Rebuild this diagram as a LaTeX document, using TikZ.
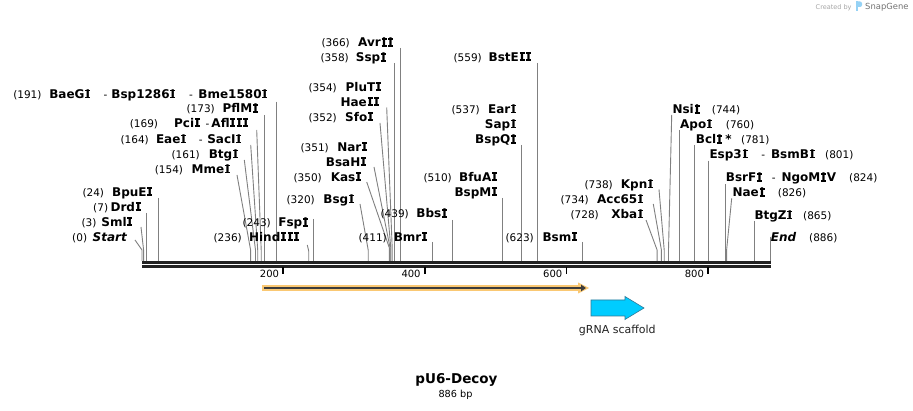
\documentclass[tikz,border=0pt]{standalone}
\usepackage{fontspec}
\setmainfont{DejaVu Sans}
\usetikzlibrary{arrows.meta}
\definecolor{bbc}{RGB}{34,34,34}
\definecolor{lkc}{RGB}{128,128,128}
\definecolor{orng}{RGB}{250,200,115}
\definecolor{dkc}{RGB}{60,60,60}
\definecolor{cyanf}{RGB}{0,204,255}
\definecolor{cyand}{RGB}{50,120,150}
\definecolor{logoc}{RGB}{150,210,245}
\newcommand\nmf{\fontsize{12}{14}\selectfont\bfseries}
\newcommand\nuf{\fontsize{10.5}{12}\selectfont}
\newcommand\dsh[2]{\hspace{#1pt}{\nuf\mdseries -}\hspace{#2pt}}
% serifed capital I, as in the reference's typeface
\newcommand\Iw{\makebox[0.54em]{\hbox to 0.42em{\rlap{\rule{0.42em}{0.15em}}\rlap{\rule[0.579em]{0.42em}{0.15em}}\hss I\hss}}}
\newcommand\LLab[6]{\node[nm,anchor=base east] (#1) at (#2,#4+4.4) {#5};
  \node[nu,anchor=base east] (#1-n) at (#3,#4+4.4) {#6};}
\newcommand\LName[4]{\node[nm,anchor=base east] (#1) at (#2,#3+4.4) {#4};}
\newcommand\RLab[6]{\node[nm,anchor=base west] (#1) at (#2,#4+4.4) {#5};
  \node[nu,anchor=base west] (#1-n) at (#3,#4+4.4) {#6};}
\newcommand\Lk[5]{\coordinate (#1-t) at (#2,#3); \coordinate (#1-b) at (#4,#5);
  \coordinate (#1-s) at (#4,261); \draw[lkline] (#1-t) -- (#1-b) -- (#1-s);}
\tikzset{
  nm/.style={font=\nmf,inner sep=0pt,text=black},
  nu/.style={font=\nuf,inner sep=0pt,text=black},
  lkline/.style={draw=lkc,line width=0.9pt},
  bbline/.style={draw=bbc,line width=2.5pt},
  tickmark/.style={draw=black,line width=1.8pt},
  ticklab/.style={font=\fontsize{10}{12}\selectfont,inner sep=0pt,anchor=base east}
}
\begin{document}
\begin{tikzpicture}[x=1pt,y=-1pt]
\useasboundingbox (0,0) rectangle (913,411);
\fill[white] (0,0) rectangle (913,411);

% links
\Lk{startl}{135}{240}{142}{250}
\Lk{sml}{141}{227}{143.6}{250}
\Lk{drd}{146.5}{213}{146.5}{213}
\Lk{bpu}{158.5}{198}{158.5}{198}
\Lk{mme}{237}{175}{250.6}{250}
\Lk{btg}{244.3}{160}{255.5}{250}
\Lk{eae}{250.7}{145}{257.7}{250}
\Lk{pci}{256.7}{130}{261.2}{250}
\Lk{pfl}{264}{115}{264}{115}
\Lk{bae}{276.8}{101.7}{276.8}{101.7}
\Lk{hind}{307.3}{245}{308.7}{251}
\Lk{fsp}{313.6}{219}{313.6}{219}
\Lk{bsg}{360}{204}{368.2}{250}
\Lk{kas}{366.7}{182}{389.4}{248}
\Lk{nar}{374}{167}{390.1}{248}
\Lk{sfo}{380}{123}{390.8}{248}
\Lk{plu}{386.7}{107.5}{392.2}{248}
\Lk{ssp}{394.5}{63}{394.5}{63}
\Lk{avr}{400.7}{48}{400.7}{48}
\Lk{bmr}{432.6}{242}{432.6}{242}
\Lk{bbs}{452.4}{220}{452.4}{220}
\Lk{bfu}{502.7}{198}{502.7}{198}
\Lk{ear}{521.9}{145}{521.9}{145}
\Lk{bste}{537.4}{63}{537.4}{63}
\Lk{bsm}{582.8}{242}{582.8}{242}
\Lk{xba}{646}{220}{657.1}{250}
\Lk{acc}{653.3}{204}{661.4}{250}
\Lk{kpn}{659}{189.5}{664.2}{250}
\Lk{nsi}{671.7}{115}{668.5}{250}
\Lk{apo}{679.8}{130}{679.8}{130}
\Lk{bcl}{694.7}{145}{694.7}{145}
\Lk{esp}{708.9}{160.7}{708.9}{160.7}
\Lk{bsrf}{725.2}{184}{725.2}{184}
\Lk{nae}{731.7}{198.3}{726.6}{250}
\Lk{btgz}{754.2}{221}{754.2}{221}
\Lk{endl}{770.5}{237}{770.5}{237}

% backbone
\coordinate (bbL1) at (142,262.3); \coordinate (bbR1) at (771,262.3);
\coordinate (bbL2) at (142,266.5); \coordinate (bbR2) at (771,266.5);
\draw[bbline] (bbL1) -- (bbR1);
\draw[bbline] (bbL2) -- (bbR2);

% ticks
\draw[tickmark] (283.2,267.5) -- (283.2,274.5);
\draw[tickmark] (424.8,267.5) -- (424.8,274.5);
\draw[tickmark] (566.5,267.5) -- (566.5,274.5);
\draw[tickmark] (708.1,267.5) -- (708.1,274.5);
\node[ticklab] (t200) at (279.2,277.7) {200};
\node[ticklab] (t400) at (420.8,277.7) {400};
\node[ticklab] (t600) at (562.5,277.7) {600};
\node[ticklab] (t800) at (704.1,277.7) {800};

% left labels
\LLab{startl}{127}{87.3}{236.7}{\itshape Start}{(0)}
\LLab{sml}{133.3}{96.7}{221.7}{Sml\Iw}{(3)}
\LLab{drd}{141.7}{108.3}{206.7}{Drd\Iw}{(7)}
\LLab{bpu}{153.3}{104.3}{191.7}{BpuE\Iw}{(24)}
\LLab{mme}{231}{183.3}{169}{Mme\Iw}{(154)}
\LLab{btg}{239}{200}{154}{Btg\Iw}{(161)}
\LLab{eae}{242.3}{149}{139}{Eae\Iw\dsh{12}{4.6}SacI\Iw}{(164)}
\LLab{pci}{249.3}{158.3}{122.7}{Pci\Iw\dsh{5}{2}Afl\Iw\Iw\Iw}{(169)}
\LLab{pfl}{259}{215}{108.3}{PflM\Iw}{(173)}
\LLab{bae}{268.3}{41.7}{94}{BaeG\Iw\dsh{12.6}{4}Bsp1286\Iw\dsh{13}{5.5}Bme1580\Iw}{(191)}

% middle labels
\LLab{hind}{300}{242}{236.7}{Hind\Iw\Iw\Iw}{(236)}
\LLab{fsp}{309}{271}{222.3}{Fsp\Iw}{(243)}
\LLab{bsg}{355}{315}{199}{Bsg\Iw}{(320)}
\LLab{kas}{362}{322}{176.7}{Kas\Iw}{(350)}
\LLab{nar}{368}{329}{146.7}{Nar\Iw}{(351)}
\LName{bsah}{367}{161.7}{BsaH\Iw}
\LLab{sfo}{374}{337}{116.7}{Sfo\Iw}{(352)}
\LLab{plu}{382}{337}{86.7}{PluT\Iw}{(354)}
\LName{hae}{380}{101.7}{Hae\Iw\Iw}
\LLab{ssp}{387}{349}{57.3}{Ssp\Iw}{(358)}
\LLab{avr}{394}{350}{42.3}{Avr\Iw\Iw}{(366)}
\LLab{bmr}{428}{387}{236.7}{Bmr\Iw}{(411)}
\LLab{bbs}{448}{409}{213.5}{Bbs\Iw}{(439)}
\LLab{bfu}{498}{452}{176.7}{BfuA\Iw}{(510)}
\LName{bspm}{498}{191.7}{BspM\Iw}
\LLab{ear}{517}{480}{109}{Ear\Iw}{(537)}
\LName{sap}{517}{124}{Sap\Iw}
\LName{bspq}{517}{139.3}{BspQ\Iw}
\LLab{bste}{532}{482}{56.7}{BstE\Iw\Iw}{(559)}
\LLab{bsm}{578}{534}{236.7}{Bsm\Iw}{(623)}
\LLab{xba}{644}{599}{214}{Xba\Iw}{(728)}
\LLab{acc}{644}{589}{199}{Acc65\Iw}{(734)}
\LLab{kpn}{654}{613}{184}{Kpn\Iw}{(738)}

% right labels
\RLab{nsi}{672.3}{711.7}{109.3}{Nsi\Iw}{(744)}
\RLab{apo}{680}{725.7}{124}{Apo\Iw}{(760)}
\RLab{bcl}{695.7}{741}{139.3}{Bcl\Iw\hspace{2.5pt}*}{(781)}
\RLab{esp}{709.3}{825}{154}{Esp3\Iw\dsh{13}{6}BsmB\Iw}{(801)}
\RLab{bsrf}{725.7}{849}{177.3}{BsrF\Iw\dsh{9}{6}NgoM\Iw V}{(824)}
\RLab{nae}{732.3}{777.7}{192.3}{Nae\Iw}{(826)}
\RLab{btgz}{754.3}{803}{215}{BtgZ\Iw}{(865)}
\RLab{endl}{770.7}{809}{236.7}{\itshape End}{(886)}

% orange feature arrow
\draw[line width=6.5pt,draw=orng] (262,288) -- (581,288);
\fill[orng] (578,282.5) -- (589,288) -- (578,293.5) -- cycle;
\draw[line width=2.2pt,draw=dkc,-{Triangle[length=5pt,width=6.5pt]}] (264,288) -- (586,288);

% gRNA scaffold arrow
\draw[fill=cyanf,draw=cyand,line width=0.6pt,line join=miter]
  (591,300) -- (625,300) -- (625,296.5) -- (644,308) -- (625,319.5) -- (625,316) -- (591,316) -- cycle;
\node[font=\fontsize{11}{13}\selectfont,inner sep=0pt,text=bbc] (grna) at (617.3,330) {gRNA scaffold};

% title
\node[font=\fontsize{13.5}{16}\selectfont\bfseries,inner sep=0pt] (title) at (456.5,380) {pU6-Decoy};
\node[font=\fontsize{9.7}{12}\selectfont,inner sep=0pt] (len) at (455.5,394.5) {886 bp};

% credit
\node[font=\fontsize{6.5}{8}\selectfont,inner sep=0pt,anchor=east,text=black!35] (cred) at (851.7,7.5) {Created by};
\fill[logoc] (856,1.5) rectangle (858.3,11.5);
\fill[logoc,rounded corners=2pt] (856,1.5) rectangle (862,7);
\node[font=\fontsize{8.4}{10}\selectfont,inner sep=0pt,anchor=west,text=black!55] (snap) at (865,7.5) {SnapGene};
\end{tikzpicture}
\end{document}
